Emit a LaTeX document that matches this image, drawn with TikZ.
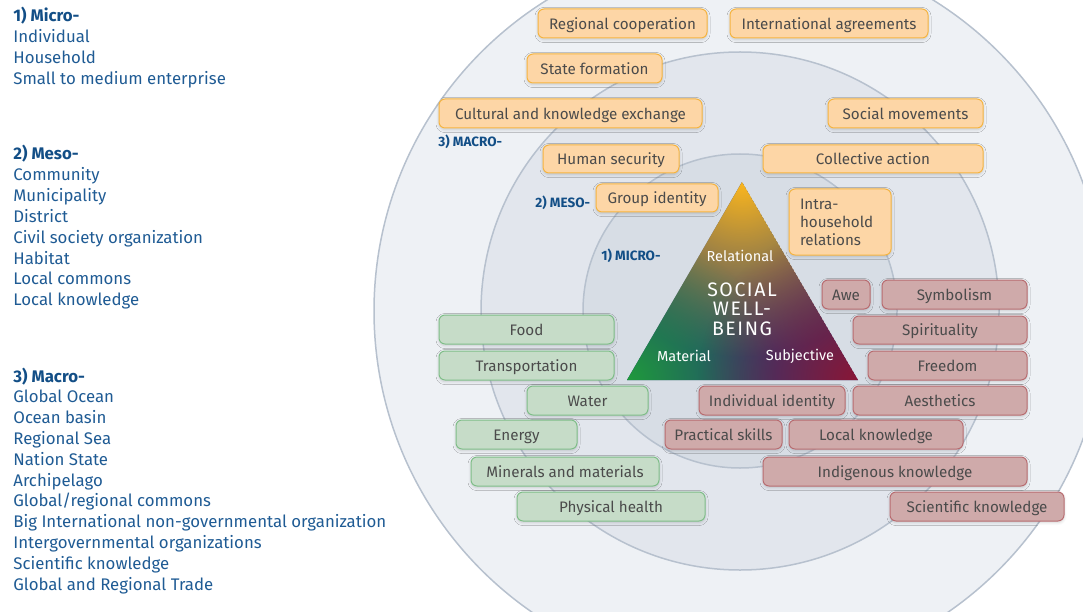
\documentclass[tikz,border=0pt]{standalone}
\usepackage{fontspec}
\setmainfont{Fira Sans}
\usepackage{tikz}
\usetikzlibrary{fadings,shadows.blur}
\tikzset{every picture/.style={line width=0.75pt}}
\tikzfading[name=cornerfade, inner color=transparent!0, outer color=transparent!100]

\definecolor{listblue}{HTML}{1F5B94}
\definecolor{headblue}{HTML}{124E86}
\definecolor{ringA}{HTML}{EEF1F5}
\definecolor{ringB}{HTML}{E2E6ED}
\definecolor{ringC}{HTML}{D7DDE5}
\definecolor{ringline}{HTML}{B7C1CE}
\definecolor{boxtext}{HTML}{4B4B4B}
\definecolor{relfill}{HTML}{FDD6A6}
\definecolor{reldraw}{HTML}{F6B440}
\definecolor{matfill}{HTML}{C6DCC8}
\definecolor{matdraw}{HTML}{7FBE88}
\definecolor{subfill}{HTML}{CFAAAA}
\definecolor{subdraw}{HTML}{B86C70}
\definecolor{triyellow}{HTML}{FBB61E}
\definecolor{trinavy}{HTML}{243D78}
\definecolor{trigreen}{HTML}{1F9A3C}
\definecolor{trired}{HTML}{8A1636}

\tikzset{
  listhead/.style={anchor=west, inner sep=0pt, text height=16pt, text depth=2pt,
    font=\fontsize{16.8}{19}\selectfont\bfseries, text=headblue},
  listitem/.style={anchor=west, inner sep=0pt, text height=16pt, text depth=2pt,
    font=\fontsize{16.8}{19}\selectfont, text=listblue},
  levellabel/.style={anchor=west, inner sep=0pt, font=\fontsize{13.5}{15}\selectfont\bfseries, text=headblue},
  wbbox/.style={rounded corners=6pt, inner sep=0pt, line width=1pt, text=boxtext,
    text height=13.5pt, text depth=2pt, font=\fontsize{15.2}{18}\selectfont,
    blur shadow={shadow xshift=0pt, shadow yshift=-1.5pt, shadow blur steps=8, shadow blur radius=3pt, shadow opacity=16}},
  relbox/.style={wbbox, fill=relfill, draw=reldraw},
  matbox/.style={wbbox, fill=matfill, draw=matdraw},
  subbox/.style={wbbox, fill=subfill, draw=subdraw},
  tritext/.style={text=white, inner sep=0pt, font=\fontsize{14.5}{17}\selectfont},
}

\begin{document}
\begin{tikzpicture}[x=1pt, y=-1pt]
    \useasboundingbox (0,0) rectangle (1083,612);
    \clip (0,0) rectangle (1083,612);

    % 同心圆
    \coordinate (ctr) at (740,311);
    \filldraw[fill=ringA, draw=ringline, line width=1.5pt] (ctr) circle (366pt);
    \filldraw[fill=ringB, draw=ringline, line width=1.5pt] (ctr) circle (259pt);
    \filldraw[fill=ringC, draw=ringline, line width=1.5pt] (ctr) circle (157pt);

    % 左侧列表
    \node[listhead] (microhead) at (13,15) {1) Micro-};
    \foreach \txt [count=\i] in {Individual, Household, Small to medium enterprise}
        \node[listitem] (micro\i) at (13, {15+20.8*\i}) {\txt};
    \node[listhead] (mesohead) at (13,153) {2) Meso-};
    \foreach \txt [count=\i] in {Community, Municipality, District, Civil society organization,
        Habitat, Local commons, Local knowledge}
        \node[listitem] (meso\i) at (13, {153+20.8*\i}) {\txt};
    \node[listhead] (macrohead) at (13,375) {3) Macro-};
    \foreach \txt [count=\i] in {Global Ocean, Ocean basin, Regional Sea, Nation State, Archipelago,
        Global/regional commons, Big International non-governmental organization,
        Intergovernmental organizations, Scientific knowledge, Global and Regional Trade}
        \node[listitem] (macro\i) at (13, {375+20.8*\i}) {\txt};

    % 层级标注
    \node[levellabel] (lvmacro) at (438,142) {3) MACRO-};
    \node[levellabel] (lvmeso) at (535,203) {2) MESO-};
    \node[levellabel] (lvmicro) at (601,256) {1) MICRO-};

    % 三角形
    \coordinate (apex) at (742,182);
    \coordinate (bl) at (627,380);
    \coordinate (br) at (858,380);
    \begin{scope}
        \clip (apex) -- (bl) -- (br) -- cycle;
        \fill[trinavy] (apex) -- (bl) -- (br) -- cycle;
        \fill[triyellow, path fading=cornerfade] (apex) circle (175pt);
        \fill[trigreen, path fading=cornerfade] (bl) circle (150pt);
        \fill[trired, path fading=cornerfade] (br) circle (160pt);
    \end{scope}
    \node[tritext] (rel) at (740,256) {Relational};
    \node[tritext] (mat) at (684,356) {Material};
    \node[tritext] (subj) at (800,356) {Subjective};
    \node[tritext, align=center, font=\fontsize{19.5}{19.5}\selectfont\addfontfeatures{LetterSpace=8}]
        (swb) at (742,309) {SOCIAL\\WELL-\\BEING};

    % 关系维度
    \foreach \nm/\xa/\ya/\xb/\yb/\txt in {
        regco/538/9/707/38/Regional cooperation,
        intag/730/9/928/38/International agreements,
        statef/527/54/662/83/State formation,
        cultx/439/99/702/128/Cultural and knowledge exchange,
        socmv/828/99/983/128/Social movements,
        humsec/543/145/679/173/Human security,
        colact/763/145/983/173/Collective action,
        grpid/596/184/718/212/Group identity}
        \node[relbox, minimum width={(\xb-\xa)*1pt}, minimum height={(\yb-\ya)*1pt}]
            (\nm) at ({(\xa+\xb)/2},{(\ya+\yb)/2}) {\txt};
    \node[relbox, minimum width=102pt, minimum height=66pt, text width=80pt, align=left,
        text height=, text depth=, font=\fontsize{15.2}{18}\selectfont] (intrahh) at (840,222)
        {Intra-\\household\\relations};

    % 物质维度
    \foreach \nm/\xa/\ya/\xb/\yb/\txt in {
        food/439/315/614/344/Food,
        transp/439/351/614/380/Transportation,
        water/527/386/648/415/Water,
        energy/456/420/577/449/Energy,
        miner/471/457/659/486/Minerals and materials,
        physh/517/492/705/521/Physical health}
        \node[matbox, minimum width={(\xb-\xa)*1pt}, minimum height={(\yb-\ya)*1pt}]
            (\nm) at ({(\xa+\xb)/2},{(\ya+\yb)/2}) {\txt};

    % 主观维度
    \foreach \nm/\xa/\ya/\xb/\yb/\txt in {
        awe/822/280/870/309/Awe,
        symb/882/280/1027/309/Symbolism,
        spir/853/316/1027/344/Spirituality,
        freed/868/351/1027/380/Freedom,
        aesth/853/386/1027/415/Aesthetics,
        indid/699/386/845/415/Individual identity,
        prsk/665/420/782/449/Practical skills,
        lockn/789/420/963/449/Local knowledge,
        indkn/763/457/1027/486/Indigenous knowledge,
        scikn/890/492/1064/521/Scientific knowledge}
        \node[subbox, minimum width={(\xb-\xa)*1pt}, minimum height={(\yb-\ya)*1pt}]
            (\nm) at ({(\xa+\xb)/2},{(\ya+\yb)/2}) {\txt};
\end{tikzpicture}
\end{document}
